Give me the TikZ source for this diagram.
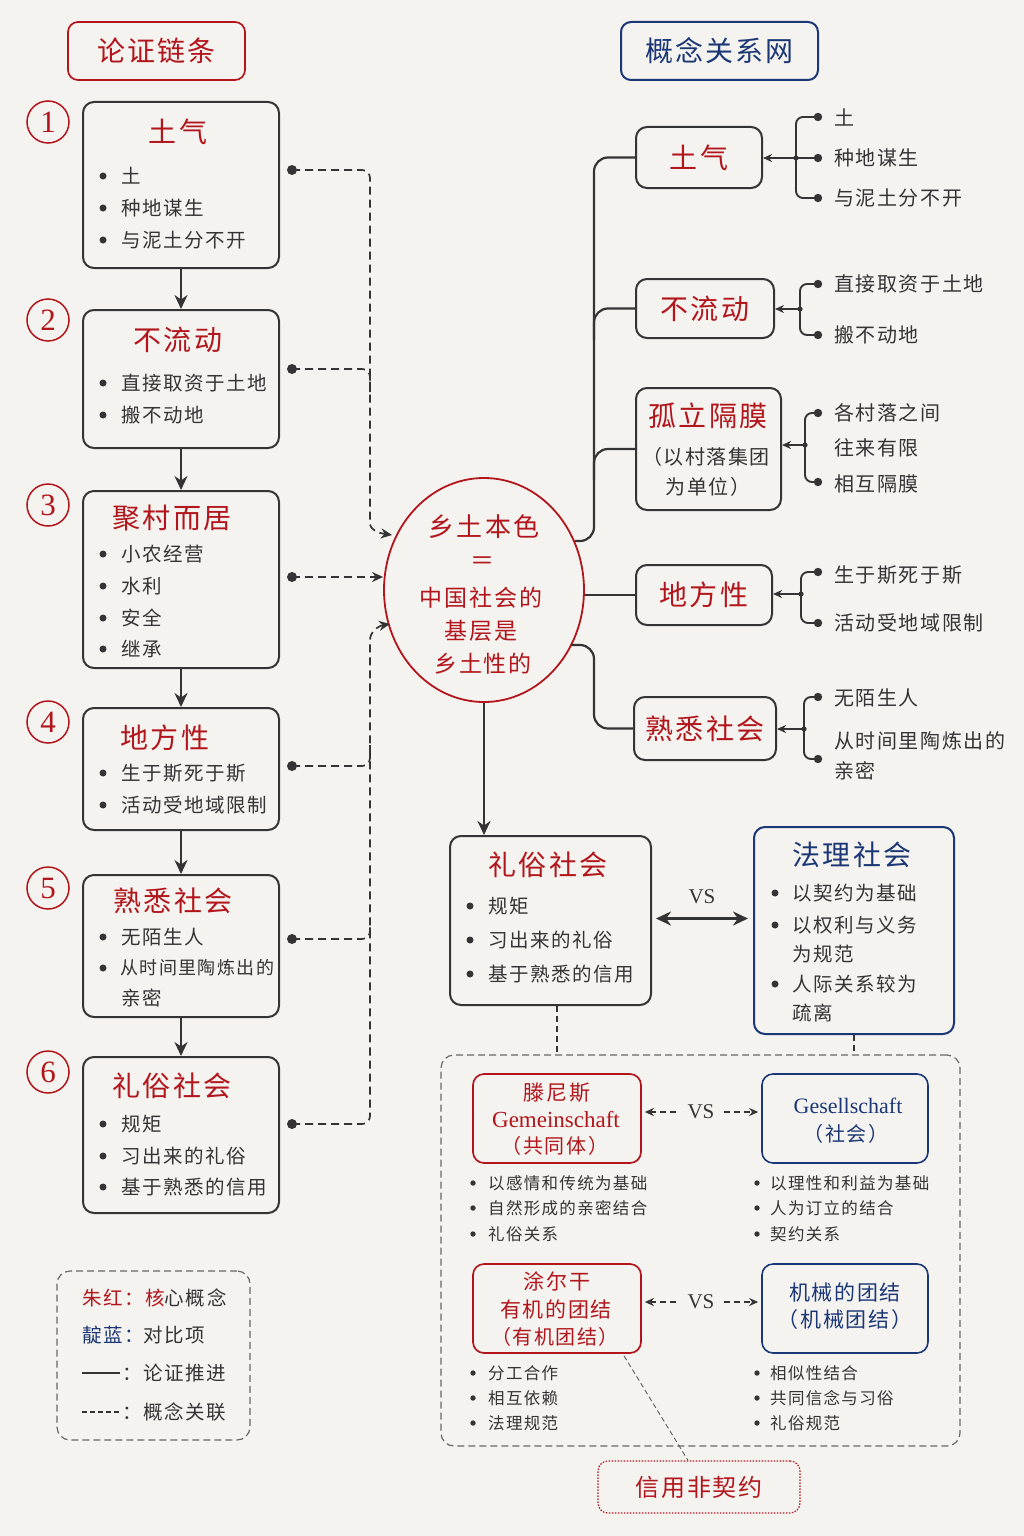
\documentclass[tikz,border=0pt]{standalone}
\usepackage{fontspec}
\setmainfont{Noto Sans CJK SC}[LetterSpace=8]
\newfontfamily\lat{Liberation Serif}
\usetikzlibrary{arrows.meta,shapes.geometric,calc}
\definecolor{zhu}{HTML}{B2161C}
\definecolor{dian}{HTML}{1C3775}
\definecolor{ink}{HTML}{343434}
\definecolor{bg}{HTML}{F4F3F0}
\newcommand\fsz[1]{\fontsize{#1pt}{#1pt}\selectfont}
\newcommand\bul[6]{\fill[ink] (#2,#4) circle (3.5); \node[#5] (#1) at (#3,#4) {#6};}
\newcommand\sbul[6]{\fill[ink] (#2,#4) circle (2.7); \node[#5] (#1) at (#3,#4) {#6};}
\newcommand\leaf[3]{\fill[ink] (818,#2) circle (4.2); \node[leaftext] (#1) at (834,#2) {#3};}
\begin{document}
\begin{tikzpicture}[x=1pt,y=-1pt,
  box/.style={draw=ink, line width=2pt, rounded corners=11pt, inner sep=0pt},
  rbox/.style={draw=zhu, line width=1.7pt, rounded corners=11pt, inner sep=0pt},
  bbox/.style={draw=dian, line width=2pt, rounded corners=11pt, inner sep=0pt},
  ttl/.style={text=zhu, font=\fsz{28}, inner sep=0pt},
  bttl/.style={text=dian, font=\fsz{28}, inner sep=0pt},
  itm/.style={text=ink, font=\fsz{19.5}, anchor=west, inner sep=0pt},
  sitm/.style={text=ink, font=\fsz{16.5}, anchor=west, inner sep=0pt},
  leaftext/.style={text=ink, font=\fsz{20}, anchor=west, inner sep=0pt},
  num/.style={circle, draw=zhu, line width=1.5pt, minimum size=42, inner sep=0pt, text=zhu, font=\lat\fsz{31}},
  arr/.style={draw=ink, line width=2.4pt, -{Stealth[length=14pt,width=13pt]}},
  dcon/.style={draw=ink, line width=1.7pt, dash pattern=on 8pt off 5pt, rounded corners=8pt},
  trunk/.style={draw=ink, line width=2.2pt, rounded corners=14pt},
  brk/.style={draw=ink, line width=1.9pt, rounded corners=7pt},
  larr/.style={draw=ink, line width=1.9pt, -{Stealth[length=9pt,width=8pt]}},
  vs/.style={text=ink, font=\lat\fsz{21}, inner sep=1pt},
  cdash/.style={draw=ink!75, line width=1.2pt, dash pattern=on 7pt off 4pt, rounded corners=13pt, inner sep=0pt},
  darr/.style={draw=ink, line width=1.6pt, dash pattern=on 6pt off 4pt}
]
\fill[bg] (0,0) rectangle (1024,1536);
\useasboundingbox (0,0) rectangle (1024,1536);

% ---------- titles ----------
\node[draw=zhu, line width=1.7pt, rounded corners=10pt, minimum width=177, minimum height=58, text=zhu, font=\fsz{28}] (tl) at (156.5,51) {论证链条};
\node[draw=dian, line width=2pt, rounded corners=10pt, minimum width=197, minimum height=58, text=dian, font=\fsz{28}] (tr) at (719.5,51) {概念关系网};

% ---------- left chain ----------
\node[num] (n1) at (48,122) {1};
\node[num] (n2) at (48,320) {2};
\node[num] (n3) at (48,505) {3};
\node[num] (n4) at (48,722) {4};
\node[num] (n5) at (48,888) {5};
\node[num] (n6) at (48,1072) {6};

\node[box, minimum width=196, minimum height=166] (b1) at (181,185) {};
\node[box, minimum width=196, minimum height=138] (b2) at (181,379) {};
\node[box, minimum width=196, minimum height=177] (b3) at (181,579.5) {};
\node[box, minimum width=196, minimum height=122] (b4) at (181,769) {};
\node[box, minimum width=196, minimum height=142] (b5) at (181,946) {};
\node[box, minimum width=196, minimum height=156] (b6) at (181,1135) {};

\draw[arr] (b1.south) -- (b2.north);
\draw[arr] (b2.south) -- (b3.north);
\draw[arr] (b3.south) -- (b4.north);
\draw[arr] (b4.south) -- (b5.north);
\draw[arr] (b5.south) -- (b6.north);

\node[ttl] (t1) at (178,132) {土气};
\bul{i11}{103}{121}{176}{itm}{土}
\bul{i12}{103}{121}{208}{itm}{种地谋生}
\bul{i13}{103}{121}{240}{itm}{与泥土分不开}

\node[ttl] (t2) at (178,340) {不流动};
\bul{i21}{103}{121}{383}{itm}{直接取资于土地}
\bul{i22}{103}{121}{415}{itm}{搬不动地}

\node[ttl] (t3) at (172,518) {聚村而居};
\bul{i31}{103}{121}{554}{itm}{小农经营}
\bul{i32}{103}{121}{586}{itm}{水利}
\bul{i33}{103}{121}{618}{itm}{安全}
\bul{i34}{103}{121}{649}{itm}{继承}

\node[ttl] (t4) at (165,738) {地方性};
\bul{i41}{103}{121}{773}{itm}{生于斯死于斯}
\bul{i42}{103}{121}{805}{itm}{活动受地域限制}

\node[ttl] (t5) at (173,901) {熟悉社会};
\bul{i51}{103}{121}{937}{itm}{无陌生人}
\bul{i52}{103}{120}{968}{itm}{\fsz{18}从时间里陶炼出的}
\node[itm] (i53) at (121,998) {亲密};

\node[ttl] (t6) at (172,1086) {礼俗社会};
\bul{i61}{103}{121}{1124}{itm}{规矩}
\bul{i62}{103}{121}{1156}{itm}{习出来的礼俗}
\bul{i63}{103}{121}{1187}{itm}{基于熟悉的信用}

% ---------- central circle ----------
\node[ellipse, draw=zhu, line width=1.8pt, minimum width=200, minimum height=224, inner sep=0pt] (circ) at (484,590) {};
\node[text=zhu, font=\fsz{26}, inner sep=0pt] (c1) at (484,527) {乡土本色};
\node[text=zhu, font=\fsz{24}, inner sep=0pt] (c2) at (482,563) {＝};
\node[text=zhu, font=\fsz{23}, inner sep=0pt] (c3) at (481,598) {中国社会的};
\node[text=zhu, font=\fsz{23}, inner sep=0pt] (c4) at (481,631) {基层是};
\node[text=zhu, font=\fsz{23}, inner sep=0pt] (c5) at (483,664) {乡土性的};

% ---------- dashed connectors left ----------
\coordinate (d1) at (292,170);
\coordinate (d2) at (292,369);
\coordinate (d3) at (292,577);
\coordinate (d4) at (292,766);
\coordinate (d5) at (292,939);
\coordinate (d6) at (292,1124);
\foreach \d in {d1,d2,d3,d4,d5,d6} \fill[ink] (\d) circle (5);
\draw[dcon, -{Stealth[length=11pt,width=10pt]}] (d1) -- (370,170) -- (370,515) .. controls (370,530) and (378,533) .. (392,535);
\draw[dcon] (d2) -- (370,369) -- (370,392);
\draw[dcon, -{Stealth[length=11pt,width=10pt]}] (d3) -- (d3 -| circ.west);
\draw[dcon, -{Stealth[length=11pt,width=10pt]}] (d6) -- (370,1124) -- (370,648) .. controls (370,632) and (378,626) .. (390,624);
\draw[dcon] (d4) -- (370,766) -- (370,745);
\draw[dcon] (d5) -- (370,939) -- (370,918);

% ---------- right concept net ----------
\node[box, minimum width=126, minimum height=61] (r1) at (699,157.5) {};
\node[ttl] (rt1) at (699,157.5) {土气};
\node[box, minimum width=138, minimum height=59] (r2) at (705,308.5) {};
\node[ttl] (rt2) at (705,308.5) {不流动};
\node[box, minimum width=145, minimum height=122] (r3) at (708.5,449) {};
\node[ttl] (rt3) at (708,416) {孤立隔膜};
\node[text=ink, font=\fsz{20}, inner sep=0pt] (rt3b) at (706,457) {（以村落集团};
\node[text=ink, font=\fsz{20}, inner sep=0pt] (rt3c) at (708,487) {为单位）};
\node[box, minimum width=136, minimum height=60] (r4) at (704,595) {};
\node[ttl] (rt4) at (704,595) {地方性};
\node[box, minimum width=142, minimum height=63] (r5) at (705,728.5) {};
\node[ttl] (rt5) at (705,728.5) {熟悉社会};

\draw[trunk] (575,541) -- (594,541) -- (594,157.5) -- (r1.west);
\draw[trunk] (594,340) -- (594,308.5) -- (r2.west);
\draw[trunk] (594,480) -- (594,449) -- (r3.west);
\draw[trunk] (r4.west -| circ.east) -- (r4.west);
\draw[trunk] (571,645) -- (594,645) -- (594,728.5) -- (r5.west);

% leaves
\coordinate (j1) at (796,158);
\draw[brk] (818,117) -| (796,198) -- (818,198);
\draw[brk] (j1) -- (818,158);
\draw[larr] (j1) -- (j1 -| r1.east);
\fill[ink] (j1) circle (2.6);
\leaf{l11}{117}{土}
\leaf{l12}{158}{种地谋生}
\leaf{l13}{198}{与泥土分不开}

\coordinate (j2) at (800,309);
\draw[brk] (818,284) -| (800,335) -- (818,335);
\draw[larr] (j2) -- (j2 -| r2.east);
\fill[ink] (j2) circle (2.6);
\leaf{l21}{284}{直接取资于土地}
\leaf{l22}{335}{搬不动地}

\coordinate (j3) at (805,445);
\draw[brk] (818,413) -| (805,482) -- (818,482);
\draw[larr] (j3) -- (j3 -| r3.east);
\fill[ink] (j3) circle (2.6);
\fill[ink] (818,413) circle (4.2);
\fill[ink] (818,482) circle (4.2);
\node[leaftext] (l31) at (834,413) {各村落之间};
\node[leaftext] (l32) at (834,448) {往来有限};
\node[leaftext] (l33) at (834,484) {相互隔膜};

\coordinate (j4) at (801,594);
\draw[brk] (818,572) -| (801,623) -- (818,623);
\draw[larr] (j4) -- (j4 -| r4.east);
\fill[ink] (j4) circle (2.6);
\fill[ink] (818,572) circle (4.2);
\fill[ink] (818,623) circle (4.2);
\node[leaftext] (l41) at (834,575) {生于斯死于斯};
\node[leaftext] (l42) at (834,623) {活动受地域限制};

\coordinate (j5) at (804,729);
\draw[brk] (818,697) -| (804,759) -- (818,759);
\draw[larr] (j5) -- (j5 -| r5.east);
\fill[ink] (j5) circle (2.6);
\fill[ink] (818,697) circle (4.2);
\fill[ink] (818,759) circle (4.2);
\node[leaftext] (l51) at (834,698) {无陌生人};
\node[leaftext] (l52) at (834,741) {从时间里陶炼出的};
\node[leaftext] (l53) at (834,771) {亲密};

% ---------- middle comparison ----------
\node[box, minimum width=201, minimum height=169] (ls) at (550.5,920.5) {};
\draw[arr] (circ.south) -- (circ.south |- ls.north);
\node[ttl] (lst) at (548,865) {礼俗社会};
\bul{ls1}{470}{488}{906}{itm}{规矩}
\bul{ls2}{470}{488}{940}{itm}{习出来的礼俗}
\bul{ls3}{470}{488}{974}{itm}{基于熟悉的信用}

\node[bbox, minimum width=200, minimum height=207] (fl) at (854,930.5) {};
\node[bttl] (flt) at (852,855) {法理社会};
\bul{fl1}{775}{792}{893}{itm}{以契约为基础}
\bul{fl2}{775}{792}{925}{itm}{以权利与义务}
\node[itm] (fl3) at (792,954) {为规范};
\bul{fl4}{775}{792}{984}{itm}{人际关系较为}
\node[itm] (fl5) at (792,1013) {疏离};

\draw[draw=ink, line width=2.8pt, {Stealth[length=15pt,width=14pt]}-{Stealth[length=15pt,width=14pt]}] ($(ls.east)+(4,-2)$) -- ($(ls.east -| fl.west)+(-5,-2)$);
\node[vs] (vs0) at (702,897) {VS};

% ---------- dashed container ----------
\node[cdash, minimum width=519, minimum height=391] (cont) at (700.5,1250.5) {};
\coordinate (lc) at (557,0);
\draw[darr] (ls.south -| lc) -- (cont.north -| lc);
\draw[darr] (fl.south) -- (fl.south |- cont.north);

\node[rbox, minimum width=168, minimum height=89] (tn) at (557,1118.5) {};
\node[text=zhu, font=\fsz{21}, inner sep=0pt] (tn1) at (557,1093) {滕尼斯};
\node[text=zhu, font=\lat\fsz{23}, inner sep=0pt] (tn2) at (556,1120) {Gemeinschaft};
\node[text=zhu, font=\fsz{20}, inner sep=0pt] (tn3) at (555,1146) {（共同体）};

\node[bbox, line width=1.6pt, minimum width=166, minimum height=89] (ge) at (845,1118.5) {};
\node[text=dian, font=\lat\fsz{22}, inner sep=0pt] (ge1) at (848,1106) {Gesellschaft};
\node[text=dian, font=\fsz{20}, inner sep=0pt] (ge2) at (846,1134) {（社会）};

\node[vs] (vs1) at (701,1112) {VS};
\draw[darr, {Stealth[length=9pt,width=8pt]}-] ($(tn.east)+(3,-6.5)$) -- ($(vs1.west)+(-8,0)$);
\draw[darr, -{Stealth[length=9pt,width=8pt]}] ($(vs1.east)+(8,0)$) -- ($(ge.west)+(-3,-6.5)$);

\sbul{tb1}{473}{488}{1183}{sitm}{以感情和传统为基础}
\sbul{tb2}{473}{488}{1208}{sitm}{自然形成的亲密结合}
\sbul{tb3}{473}{488}{1234}{sitm}{礼俗关系}
\sbul{gb1}{757}{770}{1183}{sitm}{以理性和利益为基础}
\sbul{gb2}{757}{770}{1208}{sitm}{人为订立的结合}
\sbul{gb3}{757}{770}{1234}{sitm}{契约关系}

\node[rbox, minimum width=168, minimum height=89] (tu) at (557,1308.5) {};
\node[text=zhu, font=\fsz{21}, inner sep=0pt] (tu1) at (557,1281) {涂尔干};
\node[text=zhu, font=\fsz{21}, inner sep=0pt] (tu2) at (556,1309) {有机的团结};
\node[text=zhu, font=\fsz{20}, inner sep=0pt] (tu3) at (555,1337) {（有机团结）};

\node[bbox, line width=1.6pt, minimum width=166, minimum height=89] (jx) at (845,1308.5) {};
\node[text=dian, font=\fsz{21}, inner sep=0pt] (jx1) at (845,1292) {机械的团结};
\node[text=dian, font=\fsz{21}, inner sep=0pt] (jx2) at (845,1320) {（机械团结）};

\node[vs] (vs2) at (701,1302) {VS};
\draw[darr, {Stealth[length=9pt,width=8pt]}-] ($(tu.east)+(3,-6.5)$) -- ($(vs2.west)+(-8,0)$);
\draw[darr, -{Stealth[length=9pt,width=8pt]}] ($(vs2.east)+(8,0)$) -- ($(jx.west)+(-3,-6.5)$);

\sbul{ub1}{473}{488}{1373}{sitm}{分工合作}
\sbul{ub2}{473}{488}{1398}{sitm}{相互依赖}
\sbul{ub3}{473}{488}{1423}{sitm}{法理规范}
\sbul{mb1}{757}{770}{1373}{sitm}{相似性结合}
\sbul{mb2}{757}{770}{1398}{sitm}{共同信念与习俗}
\sbul{mb3}{757}{770}{1423}{sitm}{礼俗规范}

\node[draw=zhu, line width=1.2pt, dash pattern=on 1.5pt off 1.5pt, rounded corners=10pt, minimum width=202, minimum height=52, text=zhu, font=\fsz{24}] (xy) at (699,1487) {信用非契约};
\draw[draw=ink!80, line width=0.9pt, dash pattern=on 5pt off 3pt] ($(tu.south)+(67,2)$) -- ($(xy.north)+(-11,0)$);

% ---------- legend ----------
\node[cdash, minimum width=193, minimum height=169] (lg) at (153.5,1355.5) {};
\node[itm] (g1) at (82,1298) {\textcolor{zhu}{朱红：核}心概念};
\node[itm] (g2) at (82,1335) {\textcolor{dian}{靛蓝：}对比项};
\coordinate (g3a) at (82,1373); \coordinate (g3b) at (120,1373);
\draw[ink, line width=1.5pt] (g3a) -- (g3b);
\node[itm] (g3) at (122,1373) {：论证推进};
\coordinate (g4a) at (82,1412); \coordinate (g4b) at (120,1412);
\draw[ink, line width=1.5pt, dash pattern=on 5pt off 3pt] (g4a) -- (g4b);
\node[itm] (g4) at (122,1412) {：概念关联};
\end{tikzpicture}
\end{document}
